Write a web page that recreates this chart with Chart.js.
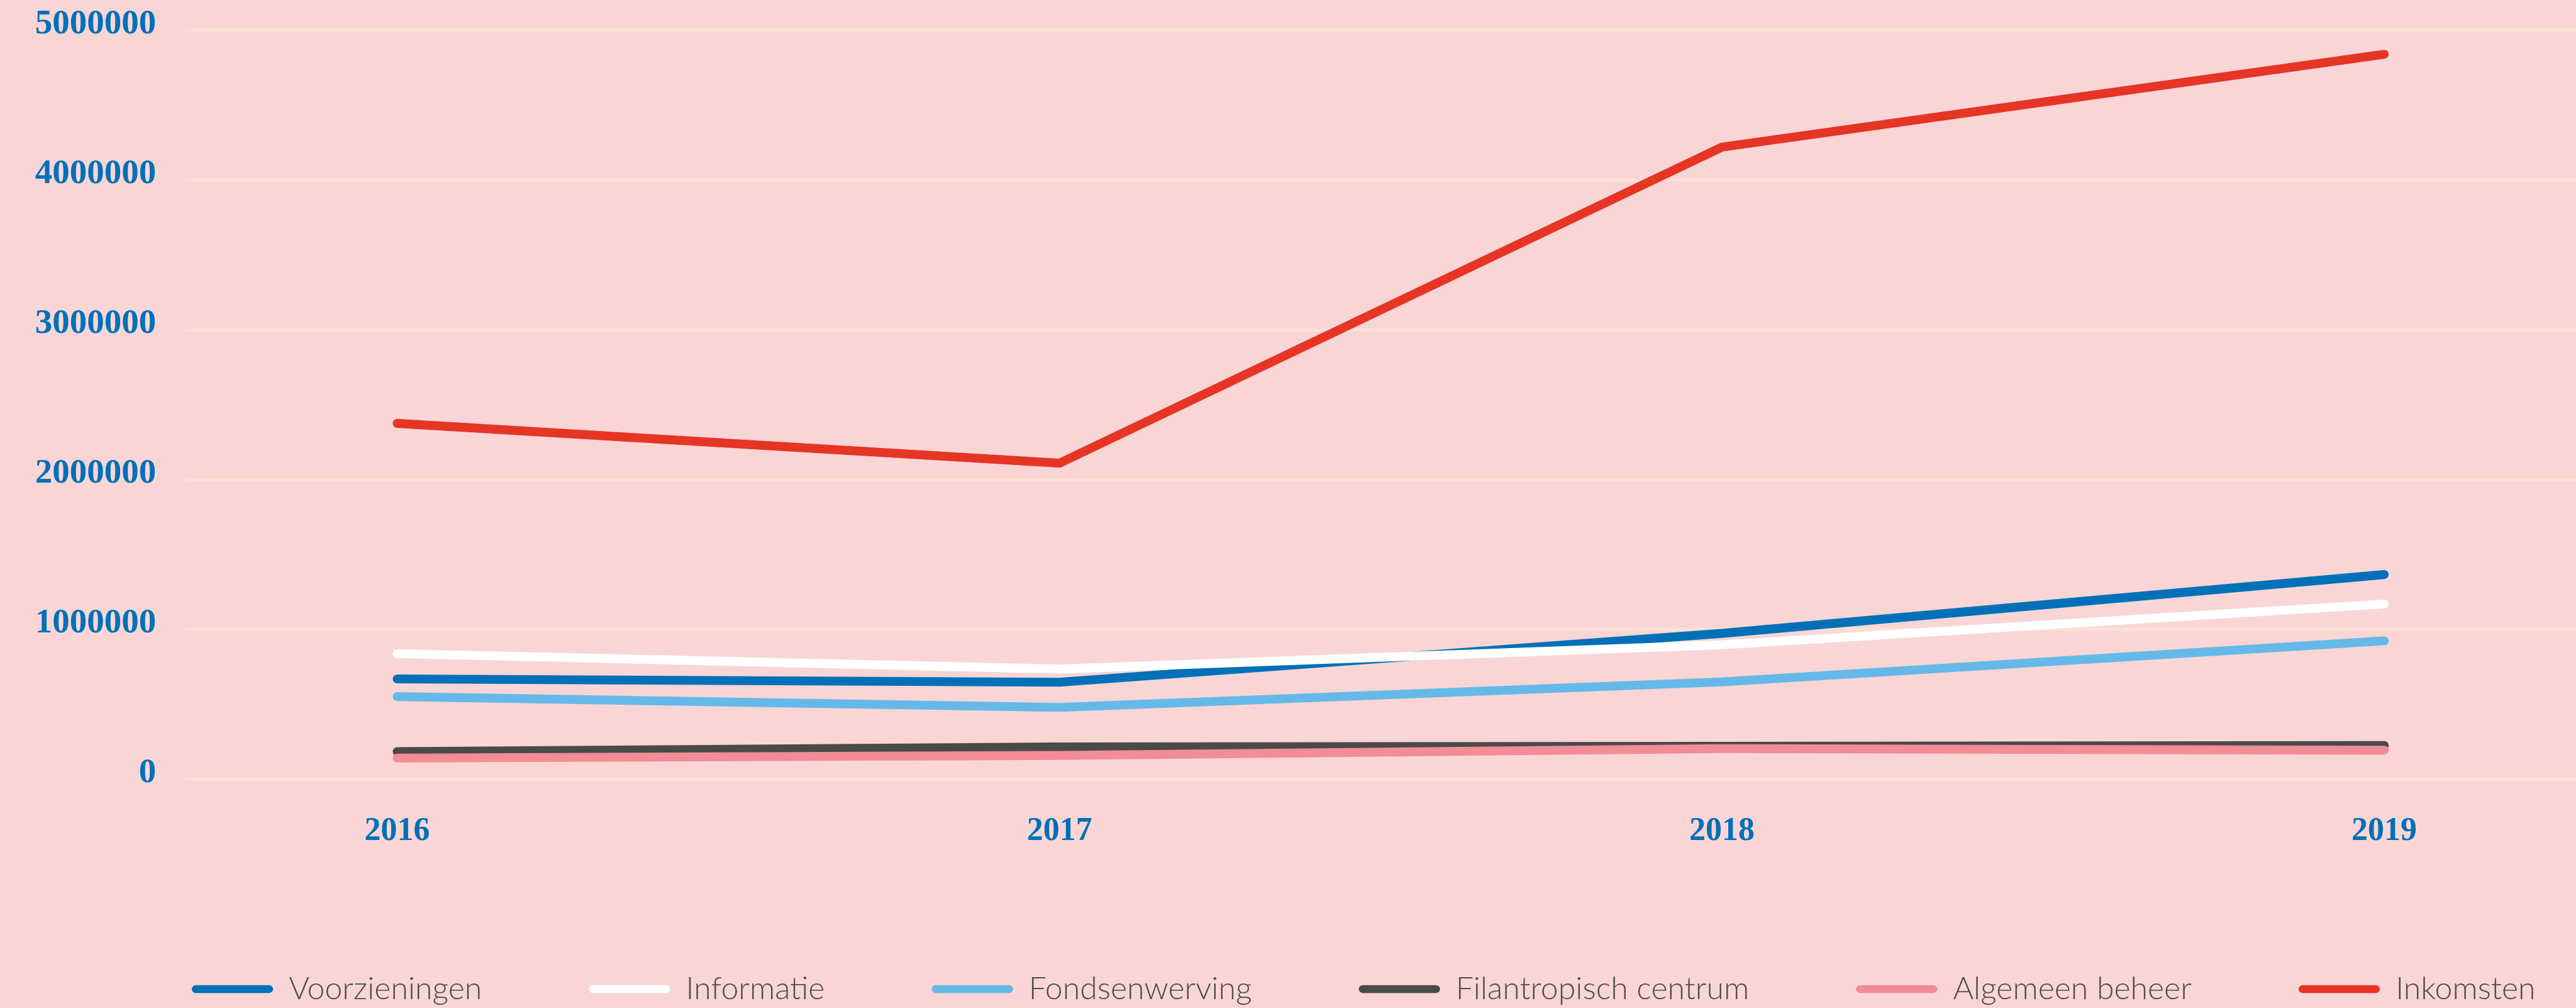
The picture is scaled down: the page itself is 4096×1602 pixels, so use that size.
<!DOCTYPE html>
<html>
<head>
<meta charset="utf-8">
<script src="https://cdn.jsdelivr.net/npm/chart.js@4/dist/chart.umd.min.js"></script>
<style>
html,body{margin:0;padding:0;background:#F9D6D5;overflow:hidden}
canvas{display:block}
</style>
</head>
<body>
<canvas id="c" width="4096" height="1602"></canvas>
<script>
// ---- data ----
const categories = ['2016', '2017', '2018', '2019'];
const seriesNames = ['Voorzieningen', 'Informatie', 'Fondsenwerving', 'Filantropisch centrum', 'Algemeen beheer', 'Inkomsten'];
const voorzieningen = [670000, 648000, 974000, 1367000];
const informatie = [839000, 736000, 898000, 1170000];
const fondsenwerving = [552000, 480000, 650000, 924000];
const filantropischCentrum = [185000, 216000, 220000, 226000];
const algemeenBeheer = [142000, 159000, 205000, 194000];
const inkomsten = [2376000, 2110000, 4220000, 4840000];
const yTickValues = [0, 1000000, 2000000, 3000000, 4000000, 5000000];
const yTickLabels = ['0', '1000000', '2000000', '3000000', '4000000', '5000000'];

// ---- style ----
const S = 0.944;
const W = 4096, H = 1602;
const seriesColors = ['#0070B8', '#FFFFFF', '#65B9E9', '#4A4A48', '#F18C98', '#E63425'];
const bgColor = '#F9D6D5';
const gridColor = '#FBE0D4';
const tickColor = '#0070B8';
const legendTextColor = '#4D4D4D';

const chartLeft = 669 * S, chartRight = 4016 * S, chartTop = 51 * S, chartBottom = 1312 * S;
const legendPad = 170;
const padLeft = 323 * S - legendPad;
const padRight = -400;
const padBottom = -5;
const legendFont = 50;
const legendHeight = legendFont + legendPad + 10;
const xTickFontSize = 52;
const yTickFontSize = 55;
const widestTick = 7 * yTickFontSize * 0.5;

const seriesData = [voorzieningen, informatie, fondsenwerving, filantropischCentrum, algemeenBeheer, inkomsten];

const bgPlugin = {
  id: 'bg',
  beforeDraw(chart) {
    const ctx = chart.ctx;
    ctx.save();
    ctx.fillStyle = bgColor;
    ctx.fillRect(0, 0, chart.width, chart.height);
    ctx.restore();
  }
};

const gridPlugin = {
  id: 'extGrid',
  beforeDatasetsDraw(chart) {
    const ys = chart.scales.y;
    const ctx = chart.ctx;
    ctx.save();
    ctx.strokeStyle = gridColor;
    ctx.lineWidth = 5 * S;
    ys.ticks.forEach(t => {
      const py = ys.getPixelForValue(t.value);
      ctx.beginPath();
      ctx.moveTo(312 * S, py);
      ctx.lineTo(chart.width, py);
      ctx.stroke();
    });
    ctx.restore();
  }
};

const datasets = seriesNames.map((name, i) => ({
  label: name,
  data: seriesData[i],
  borderColor: seriesColors[i],
  backgroundColor: seriesColors[i],
  borderWidth: 15 * S,
  borderCapStyle: 'round',
  borderJoinStyle: 'miter',
  pointRadius: 0,
  pointHoverRadius: 0,
  fill: false,
  tension: 0,
  clip: false,
  order: -i
}));

new Chart(document.getElementById('c'), {
  type: 'line',
  data: { labels: categories, datasets },
  plugins: [bgPlugin, gridPlugin],
  options: {
    responsive: false,
    animation: false,
    events: [],
    layout: { padding: { left: padLeft, right: padRight, top: chartTop, bottom: padBottom } },
    plugins: {
      tooltip: { enabled: false },
      title: { display: false },
      legend: {
        position: 'bottom',
        align: 'start',
        labels: {
          color: legendTextColor,
          font: { family: "Lato, 'Open Sans', Roboto, sans-serif", size: legendFont, weight: 300 },
          boxWidth: 137 * S,
          boxHeight: 13 * S,
          padding: legendPad,
          useBorderRadius: true,
          borderRadius: 6.5 * S,
          sort: (a, b) => a.datasetIndex - b.datasetIndex,
          generateLabels(chart) {
            const items = Chart.defaults.plugins.legend.labels.generateLabels(chart);
            return items.map(it => Object.assign(it, {
              lineWidth: 0,
              strokeStyle: 'rgba(0,0,0,0)',
              fillStyle: seriesColors[it.datasetIndex],
              borderRadius: 6.5 * S
            }));
          }
        }
      }
    },
    scales: {
      x: {
        type: 'category',
        offset: false,
        grid: { display: false, drawTicks: false },
        border: { display: false },
        ticks: {
          color: tickColor,
          font: { family: "'Liberation Serif', 'DejaVu Serif', serif", size: xTickFontSize, weight: 'bold' },
          padding: 52,
          maxRotation: 0,
          autoSkip: false
        },
        afterFit(scale) { scale.height = (H - padBottom - legendHeight) - chartBottom; }
      },
      y: {
        type: 'linear',
        position: 'left',
        min: 0,
        max: 5000000,
        grid: { display: false, drawTicks: false },
        border: { display: false },
        afterBuildTicks(scale) { scale.ticks = yTickValues.map(v => ({ value: v })); },
        ticks: {
          color: tickColor,
          font: { family: "'Liberation Serif', 'DejaVu Serif', serif", size: yTickFontSize, weight: 'bold' },
          mirror: true,
          crossAlign: 'far',
          padding: 263 * S - chartLeft - widestTick,
          labelOffset: -10 * S,
          callback: (v, i) => yTickLabels[i]
        },
        afterFit(scale) { scale.width = chartLeft - padLeft; }
      },
      yRight: {
        type: 'linear',
        position: 'right',
        display: true,
        grid: { display: false, drawTicks: false },
        border: { display: false },
        ticks: { display: false },
        afterFit(scale) { scale.width = (W - padRight) - chartRight; }
      }
    }
  }
});
</script>
</body>
</html>
